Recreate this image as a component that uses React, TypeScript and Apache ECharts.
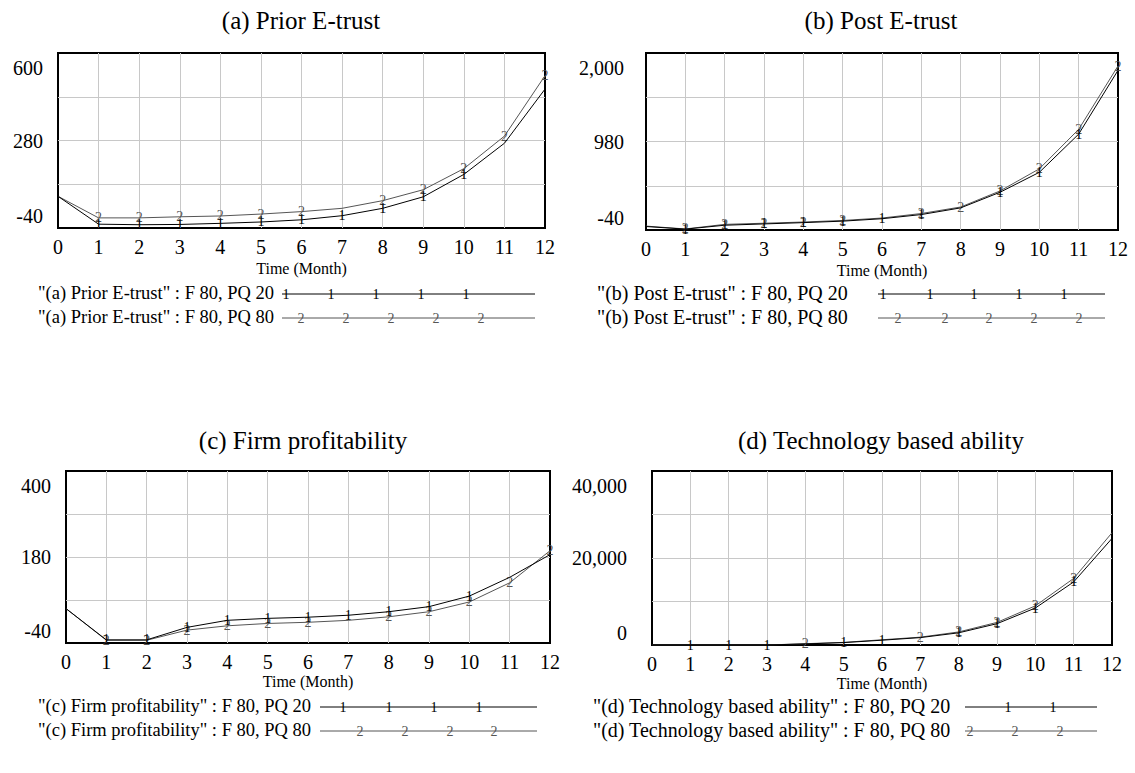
import { useEffect, useRef } from 'react';
import * as echarts from 'echarts';

const FONT = 'Liberation Serif';

// ---- data ----
const months = [0, 1, 2, 3, 4, 5, 6, 7, 8, 9, 10, 11, 12];

const priorTicks = [-40, 280, 600];
const priorPQ20 = [76, -26, -28, -27, -23, -18, -10, 5, 32, 74, 156, 270, 468];
const priorPQ80 = [76, -3, -3, 1, 4, 11, 20, 32, 60, 100, 177, 296, 517];
const priorMarks20 = [1, 2, 3, 4, 5, 6, 7, 8, 9, 10];
const priorMarks80 = [1, 2, 3, 4, 5, 6, 8, 9, 10, 11, 12];

const postTicks = [-40, 980, 2000];
const postPQ20 = [0, -30, 15, 30, 45, 62, 90, 138, 215, 395, 625, 1065, 1800];
const postPQ80 = [5, -28, 25, 38, 52, 70, 98, 150, 225, 410, 665, 1120, 1850];
const postMarks20 = [1, 2, 3, 4, 5, 6, 7, 9, 10, 11];
const postMarks80 = [1, 2, 3, 4, 5, 7, 8, 9, 10, 11, 12];

const profitTicks = [-40, 180, 400];
const profitPQ20 = [48, -32, -32, 0, 18, 23, 26, 31, 40, 53, 80, 128, 186];
const profitPQ80 = [48, -33, -33, -7, 4, 10, 13, 18, 27, 40, 65, 114, 196];
const profitMarks20 = [1, 2, 3, 4, 5, 6, 7, 8, 9, 10];
const profitMarks80 = [1, 2, 3, 4, 5, 6, 8, 9, 10, 11, 12];

const techTicks = [0, 20000, 40000];
const techPQ20 = [0, 0, 0, 0, 250, 550, 1100, 1700, 2800, 4900, 8500, 14500, 24500];
const techPQ80 = [0, 0, 0, 0, 300, 600, 1200, 1800, 3000, 5200, 9000, 15300, 25800];
const techMarks20 = [1, 2, 3, 5, 6, 8, 9, 10, 11];
const techMarks80 = [4, 7, 8, 9, 10, 11];

const titles = ['(a) Prior E-trust', '(b) Post E-trust', '(c) Firm profitability', '(d) Technology based ability'];
const legendNames = ['"(a) Prior E-trust"', '"(b) Post E-trust"', '"(c) Firm profitability"', '"(d) Technology based ability"'];
const scenarioLabels = [' : F 80, PQ 20', ' : F 80, PQ 80'];
const xAxisName = 'Time (Month)';

const panelData = [
  { ticks: priorTicks, s1: priorPQ20, s2: priorPQ80, m1: priorMarks20, m2: priorMarks80 },
  { ticks: postTicks, s1: postPQ20, s2: postPQ80, m1: postMarks20, m2: postMarks80 },
  { ticks: profitTicks, s1: profitPQ20, s2: profitPQ80, m1: profitMarks20, m2: profitMarks80 },
  { ticks: techTicks, s1: techPQ20, s2: techPQ80, m1: techMarks20, m2: techMarks80 },
];

// ---- layout ----
const layouts = [
  { grid: { left: 58, top: 53, width: 487, height: 175 }, yMargin: 15, nameGap: 32, titleX: 301, titleY: 20, legX: 38, legFont: 18.5, legY: [293, 317], line: [282, 535], mk1: [286, 331, 376, 421, 466], mk2: [301, 346, 391, 436, 481] },
  { grid: { left: 646, top: 53, width: 472, height: 177 }, yMargin: 22, nameGap: 32, titleX: 881, titleY: 20, legX: 597, legFont: 20, legY: [293, 317], line: [878, 1105], mk1: [883, 930, 974, 1019, 1064], mk2: [898, 945, 989, 1034, 1079] },
  { grid: { left: 66, top: 471, width: 484, height: 172 }, yMargin: 15, nameGap: 30, titleX: 303, titleY: 440, legX: 38, legFont: 18.5, legY: [706, 730], line: [320, 537], mk1: [343, 389, 434, 479], mk2: [360, 405, 450, 494] },
  { grid: { left: 652, top: 471, width: 460, height: 174 }, yMargin: 25, nameGap: 30, titleX: 881, titleY: 440, legX: 593, legFont: 20, legY: [706, 730], line: [965, 1097], mk1: [1008, 1053], mk2: [970, 1015, 1060] },
];

const C1 = '#000000';
const C2 = '#555555';

function buildOption() {
  const grids: any[] = [];
  const xAxes: any[] = [];
  const yAxes: any[] = [];
  const series: any[] = [];
  const graphics: any[] = [];

  panelData.forEach((p, i) => {
    const L = layouts[i];
    const [mn, md, mx] = p.ticks;
    const q = (mx - mn) / 4;
    grids.push({ ...L.grid, show: true, borderColor: '#000', borderWidth: 2, backgroundColor: 'transparent', containLabel: false });
    xAxes.push({
      type: 'value', gridIndex: i, min: 0, max: 12, interval: 1,
      axisLine: { show: false }, axisTick: { show: false },
      axisLabel: { color: '#000', fontSize: 20, fontFamily: FONT, margin: 9 },
      splitLine: { show: true, showMinLine: false, showMaxLine: false, lineStyle: { color: '#c8c8c8', width: 1 } },
      name: xAxisName, nameLocation: 'middle', nameGap: L.nameGap,
      nameTextStyle: { color: '#000', fontSize: 16, fontFamily: FONT },
    });
    const rs = { fontSize: 20, fontFamily: FONT, color: '#000' };
    yAxes.push({
      type: 'value', gridIndex: i, min: mn, max: mx,
      axisLine: { show: false },
      axisTick: { show: false, customValues: [mn, mn + q, md, mn + 3 * q, mx] },
      axisLabel: {
        customValues: [mn, md, mx], margin: L.yMargin, color: '#000', fontSize: 20, fontFamily: FONT,
        formatter: (v: number) => {
          const s = v.toLocaleString('en-US');
          if (v === mx) return `{t|${s}}`;
          if (v === mn) return `{b|${s}}`;
          return `{m|${s}}`;
        },
        rich: { t: { ...rs, padding: [30, 0, 0, 0] }, b: { ...rs, padding: [0, 0, 25, 0] }, m: { ...rs } },
      },
      splitLine: { show: true, showMinLine: false, showMaxLine: false, lineStyle: { color: '#c8c8c8', width: 1 } },
    });
    const mk = (vals: number[], marks: number[]) => months.map((m, k) => ({ value: [m, vals[k]], label: { show: marks.includes(k) } }));
    [[p.s1, p.m1, C1, '1'], [p.s2, p.m2, C2, '2']].forEach(([vals, marks, color, txt]: any, si) => {
      series.push({
        type: 'line', xAxisIndex: i, yAxisIndex: i, data: mk(vals, marks),
        symbol: 'circle', symbolSize: 1, showSymbol: true,
        itemStyle: { color: 'rgba(0,0,0,0)' },
        lineStyle: { color, width: 1 },
        label: { show: false, position: 'inside', formatter: txt, color, fontSize: 14, fontFamily: FONT },
        emphasis: { disabled: true }, silent: true, z: 3 - si,
      });
    });

    graphics.push({ type: 'text', x: L.titleX, y: L.titleY, style: { text: titles[i], fontSize: 25, fontFamily: FONT, fill: '#000', align: 'center', verticalAlign: 'middle' } });
    [0, 1].forEach((r) => {
      const y = L.legY[r];
      const color = r === 0 ? C1 : C2;
      graphics.push({ type: 'text', x: L.legX, y, style: { text: legendNames[i] + scenarioLabels[r], fontSize: L.legFont, fontFamily: FONT, fill: '#000', align: 'left', verticalAlign: 'middle' } });
      graphics.push({ type: 'line', shape: { x1: L.line[0], y1: y + 1, x2: L.line[1], y2: y + 1 }, style: { stroke: color, lineWidth: 1 } });
      (r === 0 ? L.mk1 : L.mk2).forEach((mx2) => {
        graphics.push({ type: 'text', x: mx2, y: y + 1, style: { text: r === 0 ? '1' : '2', fontSize: 14, fontFamily: FONT, fill: color, align: 'center', verticalAlign: 'middle' } });
      });
    });
  });

  return {
    animation: false,
    backgroundColor: '#fff',
    textStyle: { fontFamily: FONT, color: '#000' },
    grid: grids,
    xAxis: xAxes,
    yAxis: yAxes,
    series,
    graphic: graphics,
  };
}

export default function App() {
  const ref = useRef<HTMLDivElement>(null);
  useEffect(() => {
    document.body.style.margin = '0';
    const chart = echarts.init(ref.current!, null, { renderer: 'svg' });
    chart.setOption(buildOption() as any);
    return () => chart.dispose();
  }, []);
  return <div ref={ref} style={{ width: 1135, height: 773 }} />;
}
